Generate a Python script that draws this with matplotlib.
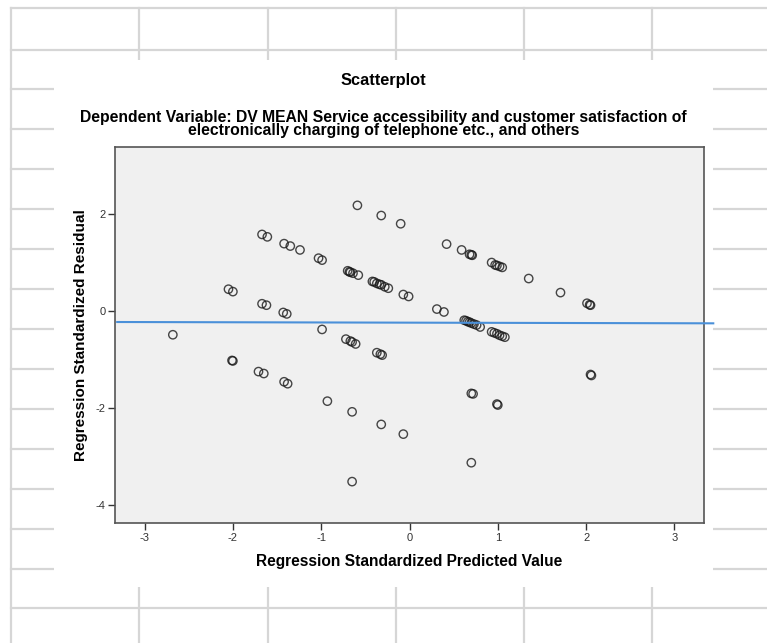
import matplotlib.pyplot as plt
from matplotlib.patches import Rectangle

plt.rcParams['font.family'] = ['Liberation Sans', 'DejaVu Sans']
plt.rcParams['axes.unicode_minus'] = False

# standardized predicted values / residuals
pred = [-2.68, -2.05, -2.00, -2.01, -2.00,
        -1.67, -1.61, -1.67, -1.62, -1.71, -1.65,
        -1.42, -1.35, -1.24, -1.43, -1.39, -1.42, -1.38,
        -1.03, -0.99, -0.99, -0.93,
        -0.70, -0.68, -0.67, -0.64, -0.58, -0.59,
        -0.72, -0.67, -0.65, -0.61, -0.65, -0.65,
        -0.42, -0.40, -0.37, -0.34, -0.32, -0.28, -0.24,
        -0.37, -0.33, -0.31, -0.32, -0.32,
        -0.10, -0.07, -0.01, -0.07,
        0.31, 0.39, 0.42, 0.59, 0.68, 0.70, 0.71,
        0.62, 0.64, 0.66, 0.68, 0.70, 0.73, 0.76, 0.80,
        0.70, 0.72, 0.70,
        0.93, 0.97, 0.99, 1.02, 1.05,
        0.93, 0.96, 0.99, 1.02, 1.05, 1.08,
        0.99, 1.00,
        1.35, 1.71, 2.01, 2.04, 2.05, 2.05, 2.06]
resid = [-0.49, 0.45, 0.40, -1.02, -1.03,
         1.58, 1.53, 0.15, 0.12, -1.25, -1.29,
         1.39, 1.34, 1.26, -0.03, -0.06, -1.46, -1.50,
         1.09, 1.05, -0.38, -1.86,
         0.83, 0.81, 0.80, 0.78, 0.74, 2.18,
         -0.58, -0.62, -0.64, -0.68, -2.08, -3.52,
         0.61, 0.60, 0.57, 0.55, 0.54, 0.50, 0.47,
         -0.86, -0.89, -0.91, 1.97, -2.34,
         1.80, 0.34, 0.30, -2.54,
         0.04, -0.02, 1.38, 1.26, 1.17, 1.16, 1.15,
         -0.19, -0.20, -0.22, -0.23, -0.25, -0.27, -0.29, -0.33,
         -1.70, -1.71, -3.13,
         1.00, 0.95, 0.94, 0.92, 0.90,
         -0.43, -0.45, -0.47, -0.50, -0.52, -0.54,
         -1.92, -1.94,
         0.67, 0.38, 0.16, 0.13, 0.12, -1.31, -1.33]

# fit line end points
fit_x = [-3.31, 3.44]
fit_y = [-0.227, -0.254]

x_ticks = [-3, -2, -1, 0, 1, 2, 3]
y_ticks = [-4, -2, 0, 2]

W, H = 767, 643
fig = plt.figure(figsize=(W / 100, H / 100), dpi=100)

# spreadsheet grid behind the chart
bg = fig.add_axes([0, 0, 1, 1])
bg.set_xlim(0, W)
bg.set_ylim(H, 0)
bg.axis('off')
grid_c = '#d6d6d6'
for yy in [8, 50, 89, 129, 169, 209, 249, 289, 329, 369, 409, 449, 489, 529, 569, 608]:
    bg.plot([11, W], [yy, yy], color=grid_c, lw=1.6, zorder=1)
for xx in [139, 268, 396, 524, 652]:
    bg.plot([xx, xx], [8, H], color=grid_c, lw=1.6, zorder=1)
bg.plot([11, 11], [8, H], color=grid_c, lw=1.6, zorder=1)
bg.add_patch(Rectangle((54, 60), 659, 527, facecolor='white',
                       edgecolor='none', zorder=5))

fig.text(0.5, 1 - 81 / H, 'Scatterplot', ha='center', va='center',
         fontsize=11.8, fontweight='bold')
fig.text(0.5, 1 - 124 / H,
         'Dependent Variable: DV MEAN Service accessibility and customer satisfaction of\n'
         'electronically charging of telephone etc., and others',
         ha='center', va='center', fontsize=11.3, fontweight='bold', linespacing=0.84)

ax = fig.add_axes([115 / W, 1 - 523.3 / H, (704 - 115) / W, (523.3 - 146.7) / H])
ax.set_facecolor('#f0f0f0')
ax.scatter(pred, resid, s=36, facecolors='none', edgecolors='#1a1a1a',
           linewidths=1.0, alpha=0.8, zorder=3)
ax.plot(fit_x, fit_y, color='#4a90d9', lw=1.5, clip_on=False, zorder=4)

ax.set_xlim(-3.335, 3.335)
ax.set_ylim(-4.38, 3.39)
ax.set_xticks(x_ticks)
ax.set_yticks(y_ticks)
ax.tick_params(direction='out', length=5, width=1, colors='#333333',
               labelsize=8, pad=2)
for sp in ax.spines.values():
    sp.set_color('#555555')
    sp.set_linewidth(1.2)

ax.set_xlabel('Regression Standardized Predicted Value', fontsize=11.2,
              fontweight='bold', labelpad=8)
ax.set_ylabel('Regression Standardized Residual', fontsize=11,
              fontweight='bold', labelpad=5)

fig.savefig('out.png', dpi=100)
